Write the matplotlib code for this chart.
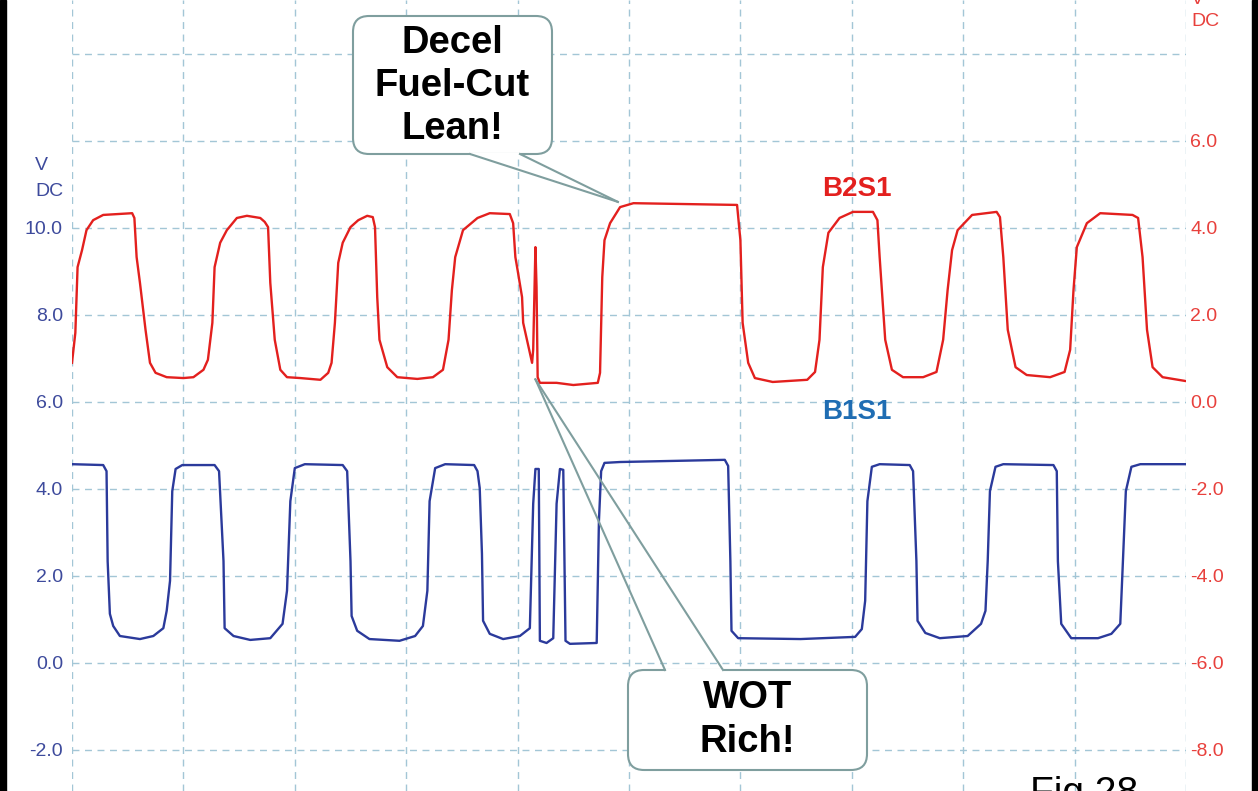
import matplotlib
matplotlib.use("Agg")
import matplotlib.pyplot as plt
from matplotlib.patches import FancyBboxPatch, Rectangle

plt.rcParams['font.family'] = ['Liberation Sans', 'DejaVu Sans']

# ---------------- data (time in grid divisions, volts) ----------------
# B2S1 (red) read on the right axis
red_t = [0.00, 0.03, 0.05, 0.09, 0.13, 0.19, 0.28, 0.54, 0.56, 0.58, 0.61, 0.66, 0.70, 0.75, 0.85,
         1.00, 1.09, 1.18, 1.22, 1.26, 1.28, 1.33, 1.39, 1.48, 1.57, 1.69, 1.73, 1.76, 1.78, 1.82,
         1.87, 1.93, 2.05, 2.23, 2.30, 2.33, 2.36, 2.39, 2.43, 2.50, 2.57, 2.65, 2.70, 2.72, 2.74,
         2.76, 2.83, 2.92, 3.10, 3.24, 3.33, 3.38, 3.41, 3.44, 3.51, 3.64, 3.75, 3.93, 3.96, 3.98,
         4.00, 4.04, 4.05, 4.09, 4.13, 4.14, 4.16, 4.17, 4.18, 4.20, 4.35, 4.50, 4.72, 4.74, 4.76,
         4.78, 4.83, 4.92, 5.04, 5.97, 6.00, 6.02, 6.07, 6.13, 6.29, 6.60, 6.67, 6.71, 6.74, 6.79,
         6.89, 7.01, 7.19, 7.23, 7.25, 7.30, 7.36, 7.46, 7.64, 7.76, 7.82, 7.86, 7.90, 7.95, 8.08,
         8.30, 8.33, 8.36, 8.40, 8.47, 8.57, 8.78, 8.91, 8.96, 8.99, 9.02, 9.11, 9.23, 9.52, 9.57,
         9.61, 9.65, 9.70, 9.79, 10.00]
red_v = [0.90, 1.59, 3.10, 3.49, 3.95, 4.18, 4.30, 4.34, 4.23, 3.33, 2.74, 1.66, 0.90, 0.67, 0.57,
         0.55, 0.57, 0.74, 0.97, 1.82, 3.10, 3.66, 3.95, 4.23, 4.28, 4.23, 4.14, 4.02, 2.74, 1.43,
         0.74, 0.57, 0.55, 0.51, 0.67, 0.90, 1.82, 3.20, 3.66, 4.02, 4.18, 4.28, 4.25, 4.02, 2.41,
         1.43, 0.80, 0.57, 0.53, 0.57, 0.74, 1.43, 2.57, 3.33, 3.95, 4.23, 4.34, 4.32, 4.11, 3.33,
         3.03, 2.41, 1.82, 1.36, 0.90, 1.20, 3.56, 2.64, 0.57, 0.44, 0.44, 0.39, 0.44, 0.67, 2.87,
         3.72, 4.11, 4.48, 4.57, 4.53, 3.72, 1.82, 0.90, 0.55, 0.46, 0.51, 0.69, 1.43, 3.10, 3.89,
         4.23, 4.37, 4.37, 4.18, 3.33, 1.43, 0.74, 0.57, 0.57, 0.69, 1.43, 2.57, 3.49, 3.95, 4.30,
         4.37, 4.25, 3.33, 1.66, 0.80, 0.62, 0.57, 0.69, 1.20, 2.57, 3.56, 4.11, 4.34, 4.30, 4.23,
         3.33, 1.66, 0.80, 0.57, 0.48]

# B1S1 (blue) read on the left axis
blue_t = [0.00, 0.28, 0.31, 0.32, 0.34, 0.37, 0.43, 0.61, 0.73, 0.82, 0.85, 0.88, 0.90, 0.93, 0.99,
          1.28, 1.32, 1.36, 1.37, 1.45, 1.60, 1.78, 1.89, 1.93, 1.96, 2.00, 2.09, 2.43, 2.47, 2.50,
          2.51, 2.56, 2.67, 2.94, 3.08, 3.15, 3.19, 3.21, 3.26, 3.35, 3.61, 3.64, 3.66, 3.68, 3.69,
          3.75, 3.87, 4.02, 4.11, 4.14, 4.16, 4.19, 4.20, 4.26, 4.32, 4.35, 4.38, 4.41, 4.43, 4.47,
          4.71, 4.73, 4.75, 4.78, 4.92, 5.86, 5.89, 5.91, 5.92, 5.98, 6.54, 7.03, 7.09, 7.12, 7.14,
          7.18, 7.25, 7.52, 7.55, 7.58, 7.59, 7.66, 7.79, 8.04, 8.16, 8.20, 8.22, 8.24, 8.29, 8.36,
          8.81, 8.84, 8.85, 8.88, 8.97, 9.21, 9.33, 9.41, 9.43, 9.46, 9.51, 9.59, 10.00]
blue_v = [4.57, 4.55, 4.41, 2.34, 1.13, 0.85, 0.62, 0.55, 0.62, 0.80, 1.20, 1.89, 3.95, 4.46, 4.55,
          4.55, 4.41, 2.34, 0.80, 0.62, 0.53, 0.57, 0.90, 1.66, 3.72, 4.48, 4.57, 4.55, 4.41, 2.34,
          1.08, 0.74, 0.55, 0.51, 0.62, 0.85, 1.66, 3.72, 4.48, 4.57, 4.55, 4.41, 4.02, 2.51, 0.97,
          0.67, 0.55, 0.62, 0.80, 3.66, 4.46, 4.46, 0.51, 0.46, 0.57, 3.66, 4.46, 4.44, 0.51, 0.44,
          0.46, 3.26, 4.41, 4.60, 4.62, 4.67, 4.53, 2.34, 0.74, 0.57, 0.55, 0.60, 0.78, 1.43, 3.72,
          4.51, 4.57, 4.55, 4.41, 2.34, 0.97, 0.69, 0.57, 0.62, 0.90, 1.20, 2.34, 3.95, 4.51, 4.57,
          4.55, 4.41, 2.34, 0.90, 0.57, 0.57, 0.67, 0.90, 2.11, 3.95, 4.51, 4.57, 4.57]

left_ticks = [-2, 0, 2, 4, 6, 8, 10, 12, 14]
left_labels = ['-2.0', '0.0', '2.0', '4.0', '6.0', '8.0', '10.0', '', '']
right_ticks = [-8, -6, -4, -2, 0, 2, 4, 6, 8]
right_labels = ['-8.0', '-6.0', '-4.0', '-2.0', '0.0', '2.0', '4.0', '6.0', '']
axis_offset = 6.0  # right axis = left axis - 6

# tips of the callouts (time, right-axis volts)
decel_tip = (4.90, 4.60)
wot_tip = (4.16, 0.52)

# ---------------- figure ----------------
W, H = 1258, 791
fig = plt.figure(figsize=(W / 100, H / 100), dpi=100)
fig.patch.set_facecolor('white')

x0, x1 = 72, 1186
ax = fig.add_axes([x0 / W, 0, (x1 - x0) / W, 1])
ylo, yhi = -2.943, 15.241
ax.set_xlim(0, 10)
ax.set_ylim(ylo, yhi)
ax2 = ax.twinx()
ax2.set_ylim(ylo - axis_offset, yhi - axis_offset)

for a in (ax, ax2):
    for s in a.spines.values():
        s.set_visible(False)
    a.set_facecolor('none')

ax.set_xticks(range(11))
ax.set_xticklabels([])
ax.tick_params(axis='x', length=0)
ax.set_yticks(left_ticks)
ax.set_yticklabels(left_labels)
ax.tick_params(axis='y', length=0, pad=6.5, labelsize=14, labelcolor='#3d4a9c')
ax2.set_yticks(right_ticks)
ax2.set_yticklabels(right_labels)
ax2.tick_params(axis='y', length=0, pad=3, labelsize=14, labelcolor='#e8403c')
ax.grid(True, color='#a3c6d6', linestyle=(0, (5, 4)), linewidth=1.0)
ax2.grid(False)

ax.plot(blue_t, blue_v, color='#2b3a9b', lw=1.7, zorder=3)
ax2.plot(red_t, red_v, color='#e3201e', lw=1.7, zorder=3)

# ---------------- overlay (pixel coords) ----------------
ov = fig.add_axes([0, 0, 1, 1], zorder=10)
ov.set_xlim(0, W)
ov.set_ylim(H, 0)
ov.axis('off')
ov.patch.set_alpha(0)

# borders
ov.add_patch(Rectangle((0, 0), 6, H, color='black'))
ov.add_patch(Rectangle((W - 6, 0), 6, H, color='black'))

# axis unit labels
ov.text(35, 166, 'V', color='#3d4a9c', fontsize=14, ha='left', va='center')
ov.text(35, 192, 'DC', color='#3d4a9c', fontsize=14, ha='left', va='center')
ov.text(1191, 4, 'V', color='#e8403c', fontsize=14, ha='left', va='baseline')
ov.text(1191, 21, 'DC', color='#e8403c', fontsize=14, ha='left', va='center')

# series labels
ov.text(857, 189, 'B2S1', color='#e3201e', fontsize=20, fontweight='bold', ha='center', va='center')
ov.text(857, 412, 'B1S1', color='#1f6db3', fontsize=20, fontweight='bold', ha='center', va='center')


def to_px(a, pt):
    dx, dy = a.transData.transform(pt)
    return dx, H - dy


edge = '#7f9e9e'


def callout(bx, by, bw, bh, base1, base2, tip, text, ty):
    box = FancyBboxPatch((bx, by), bw, bh, boxstyle='round,pad=0,rounding_size=16',
                         facecolor='white', edgecolor=edge, lw=1.5, zorder=11)
    ov.add_patch(box)
    ov.plot([base1[0] + 2, base2[0] - 2], [base1[1], base2[1]], color='white', lw=2.5, zorder=12)
    ov.plot([base1[0], tip[0]], [base1[1], tip[1]], color=edge, lw=1.5, zorder=12)
    ov.plot([base2[0], tip[0]], [base2[1], tip[1]], color=edge, lw=1.5, zorder=12)
    ov.text(bx + bw / 2, ty, text, fontsize=27.5, fontweight='bold', ha='center',
            va='center', linespacing=1.25, color='black', zorder=13)


fig.canvas.draw()
tip1 = to_px(ax2, decel_tip)
tip2 = to_px(ax2, wot_tip)
callout(353, 16, 199, 138, (470, 154), (520, 154), tip1, 'Decel\nFuel-Cut\nLean!', 86)
callout(628, 670, 239, 100, (665, 670), (723, 670), tip2, 'WOT\nRich!', 720)

ov.text(1030, 776, 'Fig 28', fontsize=28, ha='left', va='top', color='black')

fig.savefig('out.png', dpi=100, facecolor='white')
